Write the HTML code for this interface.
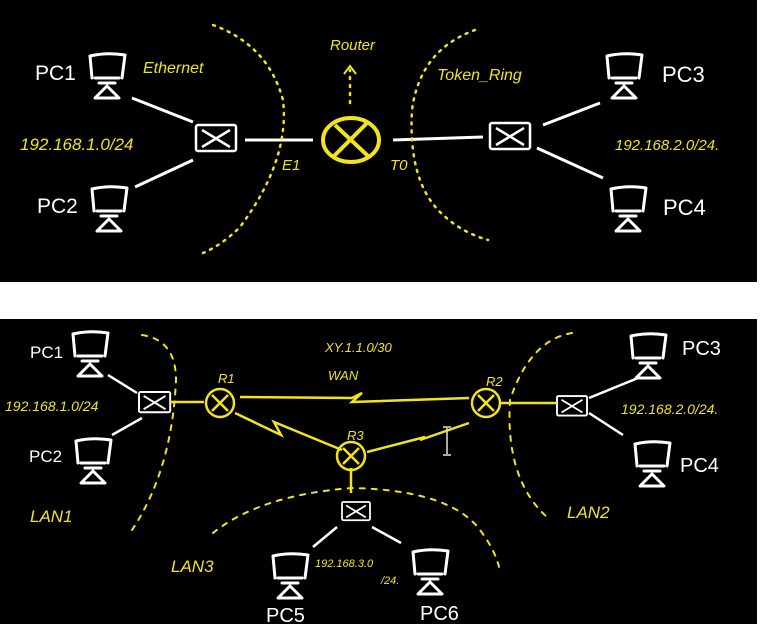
<!DOCTYPE html>
<html><head><meta charset="utf-8"><style>
html,body{margin:0;padding:0;background:#fff;width:763px;height:624px;overflow:hidden}
svg{display:block}
text{font-family:"Liberation Sans",sans-serif}
.w{fill:#fff}.y{fill:#f2e41c;font-style:italic}
</style></head><body>
<svg width="763" height="624" viewBox="0 0 763 624">
<defs>
<g id="pc" fill="none" stroke="#fff" stroke-width="3" stroke-linejoin="round" stroke-linecap="round">
<path d="M3,4 Q20,0 38,3 L35,26 M3,4 L5,26 M8,26 H32"/>
<path d="M12,31 H28"/>
<path d="M8,46 L20,34 L32,46 Z"/>
</g>
<g id="sw" fill="none" stroke="#fff" stroke-width="2.5">
<rect x="0" y="0" width="40" height="26" rx="2"/>
<path d="M6,5 L34,22 M34,5 L6,22"/>
</g>
</defs>
<rect x="0" y="0" width="757" height="282" fill="#000"/>
<rect x="0" y="319" width="757" height="305" fill="#000"/>

<!-- TOP -->
<use href="#pc" x="87" y="52"/>
<use href="#pc" x="89" y="185"/>
<text class="w" x="35" y="80" font-size="21">PC1</text>
<text class="w" x="37" y="213" font-size="21">PC2</text>
<use href="#sw" x="196" y="125"/>
<g stroke="#fff" stroke-width="3" fill="none">
<path d="M132,98 L193,122 M135,187 L193,160 M245,140 L313,140"/>
<path d="M393,140 L483,137 M543,125 L600,103 M537,148 L603,178"/>
</g>
<use href="#sw" x="490" y="123"/>
<use href="#pc" x="604" y="52"/>
<use href="#pc" x="608" y="185"/>
<text class="w" x="662" y="82" font-size="22">PC3</text>
<text class="w" x="663" y="215" font-size="22">PC4</text>
<g fill="none" stroke="#f2e41c" stroke-width="2.5" stroke-dasharray="2 6" stroke-linecap="round">
<path d="M213,25 Q268,45 283,100 Q290,160 240,227 Q222,245 203,253"/>
<path d="M475,30 Q420,50 412,110 Q408,180 440,212 Q460,232 488,240"/>
<path d="M350,103 L350,70"/>
</g>
<path d="M344,74 L350,66 L356,74" stroke="#f2e41c" stroke-width="2" fill="none"/>
<ellipse cx="351" cy="140" rx="28" ry="22" fill="none" stroke="#f2e41c" stroke-width="4"/>
<path d="M335,125 L368,156 M368,122 L334,156" stroke="#f2e41c" stroke-width="4"/>
<text class="y" x="330" y="50" font-size="15">Router</text>
<text class="y" x="143" y="73" font-size="16">Ethernet</text>
<text class="y" x="437" y="80" font-size="16">Token_Ring</text>
<text class="y" x="20" y="150" font-size="17">192.168.1.0/24</text>
<text class="y" x="615" y="150" font-size="15">192.168.2.0/24.</text>
<text class="y" x="282" y="170" font-size="15">E1</text>
<text class="y" x="390" y="170" font-size="15">T0</text>

<!-- BOTTOM -->
<use href="#pc" x="70" y="330"/>
<use href="#pc" x="73" y="437"/>
<text class="w" x="30" y="358" font-size="17">PC1</text>
<text class="w" x="29" y="462" font-size="17">PC2</text>
<use href="#sw" x="139" y="392" transform="translate(139,392) scale(0.78) translate(-139,-392)"/>
<use href="#sw" x="557" y="396" transform="translate(557,396) scale(0.75) translate(-557,-396)"/>
<use href="#sw" x="342" y="502" transform="translate(342,502) scale(0.7) translate(-342,-502)"/>
<use href="#pc" x="628" y="332"/>
<use href="#pc" x="632" y="440"/>
<text class="w" x="682" y="355" font-size="20">PC3</text>
<text class="w" x="680" y="472" font-size="20">PC4</text>
<use href="#pc" x="270" y="552"/>
<use href="#pc" x="410" y="548"/>
<text class="w" x="266" y="622" font-size="20">PC5</text>
<text class="w" x="420" y="620" font-size="20">PC6</text>
<g stroke="#fff" stroke-width="2.5" fill="none">
<path d="M108,375 L137,393 M112,435 L142,418"/>
<path d="M589,398 L638,378 M589,413 L623,435"/>
<path d="M337,527 L313,547 M372,527 L401,543"/>
</g>
<path d="M447,427 V455 M443,427 H451 M443,455 H451" stroke="#aaa" stroke-width="2"/>
<g stroke="#f2e41c" stroke-width="2.5" fill="none">
<path d="M170,402 L204,402 M500,403 L557,403 M351,468 L351,493"/>
<path d="M240,397 L352,398 L362,393 L352,402 L469,398"/>
<path d="M235,413 L281,435 L274,422 L342,450"/>
<path d="M367,452 L425,437 L420,440 L469,423"/>
<circle cx="220" cy="403" r="14"/><path d="M212,395 L228,411 M228,395 L212,411"/>
<circle cx="486" cy="403" r="14"/><path d="M478,395 L494,411 M494,395 L478,411"/>
<circle cx="351" cy="456" r="14"/><path d="M343,448 L359,464 M359,448 L343,464"/>
</g>
<g fill="none" stroke="#f2e41c" stroke-width="2" stroke-dasharray="5 7" stroke-linecap="round">
<path d="M142,335 Q176,340 176,380 Q172,470 132,530"/>
<path d="M572,333 Q530,340 510,400 Q505,480 548,518"/>
<path d="M213,533 Q260,495 352,488 Q450,490 480,530 Q495,550 499,567"/>
</g>
<text class="y" x="5" y="411" font-size="14">192.168.1.0/24</text>
<text class="y" x="621" y="414" font-size="14">192.168.2.0/24.</text>
<text class="y" x="325" y="352" font-size="13">XY.1.1.0/30</text>
<text class="y" x="328" y="380" font-size="13">WAN</text>
<text class="y" x="218" y="383" font-size="13">R1</text>
<text class="y" x="486" y="386" font-size="13">R2</text>
<text class="y" x="347" y="440" font-size="13">R3</text>
<text class="y" x="30" y="522" font-size="17">LAN1</text>
<text class="y" x="567" y="518" font-size="17">LAN2</text>
<text class="y" x="171" y="572" font-size="17">LAN3</text>
<text class="y" x="315" y="567" font-size="11">192.168.3.0</text>
<text class="y" x="381" y="584" font-size="11">/24.</text>
</svg>
</body></html>
